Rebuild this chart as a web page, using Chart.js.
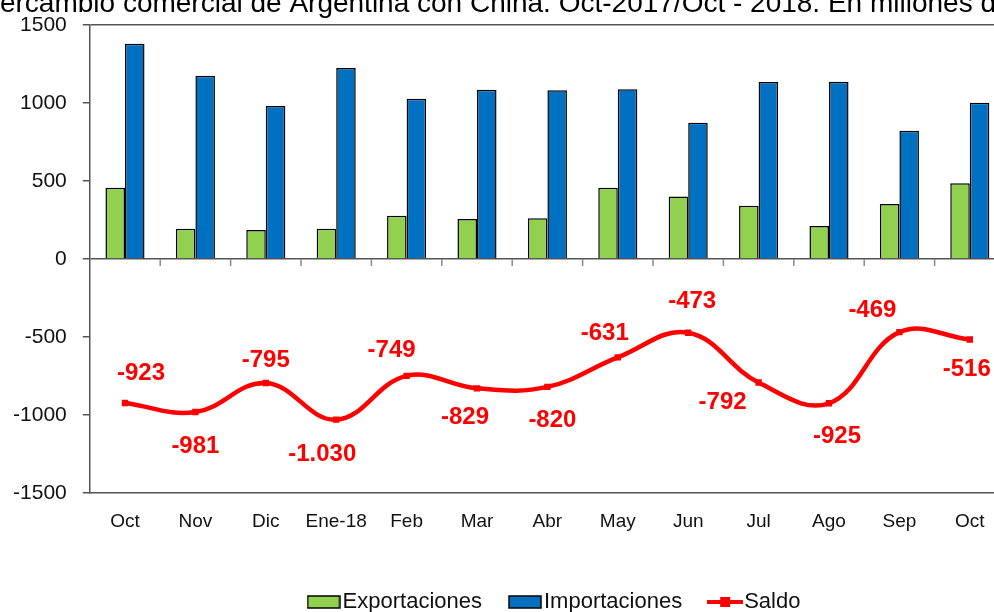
<!DOCTYPE html>
<html>
<head>
<meta charset="utf-8">
<script src="https://cdn.jsdelivr.net/npm/chart.js@4.4.0/dist/chart.umd.min.js"></script>
<style>
  html, body { margin: 0; padding: 0; background: #fff; overflow: hidden; }
  body { width: 994px; height: 612px; position: relative; }
  #wrap { position: absolute; left: -80px; top: -20px; width: 1240px; height: 643px; }
</style>
</head>
<body>
<div id="wrap"><canvas id="chart"></canvas></div>
<script>
// ===== DATA =====
const months = ["Oct", "Nov", "Dic", "Ene-18", "Feb", "Mar", "Abr", "May", "Jun", "Jul", "Ago", "Sep", "Oct"];
const exportaciones = [457, 194, 186, 194, 278, 256, 261, 457, 400, 342, 212, 353, 485];
const importaciones = [1380, 1175, 981, 1224, 1027, 1085, 1081, 1088, 873, 1134, 1137, 822, 1001];
const saldo = [-923, -981, -795, -1030, -749, -829, -820, -631, -473, -792, -925, -469, -516];
const yTicks = [-1500, -1000, -500, 0, 500, 1000, 1500];

const titleText = "Intercambio comercial de Argentina con China. Oct-2017/Oct - 2018. En millones de dólares";

// where each saldo label sits relative to its point (px)
const labelOffsets = [[16, -30], [0, 34], [0, -23], [-14, 35], [-15, -25], [-12, 29], [5, 33],
    [-13, -24], [4, -31], [-36, 20], [8, 33], [-27, -22], [-3, 30]];

const sans = '"Liberation Sans", Arial, sans-serif';

// -1030 -> "-1.030"
function fmtMiles(v) {
    const s = String(Math.abs(v)).replace(/\B(?=(\d{3})+(?!\d))/g, ".");
    return (v < 0 ? "-" : "") + s;
}

// ===== LEGEND SYMBOLS =====
function boxSymbol(fill) {
    const c = document.createElement("canvas");
    c.width = 34; c.height = 14;
    const g = c.getContext("2d");
    g.fillStyle = fill;
    g.fillRect(1, 1, 32, 12);
    g.strokeStyle = "#000";
    g.lineWidth = 1.5;
    g.strokeRect(1, 1, 32, 12);
    return c;
}

function lineSymbol() {
    const c = document.createElement("canvas");
    c.width = 36; c.height = 14;
    const g = c.getContext("2d");
    g.strokeStyle = "#FF0000";
    g.lineWidth = 4;
    g.beginPath(); g.moveTo(0, 7); g.lineTo(36, 7); g.stroke();
    g.fillStyle = "#FF0000";
    g.fillRect(13, 2, 10, 10);
    return c;
}

const legendSymbols = [boxSymbol("#92D050"), boxSymbol("#0070C0"), lineSymbol()];

// ===== PLUGINS =====
// small tick marks under the zero line between categories
const zeroTicks = {
    id: "zeroTicks",
    afterDatasetsDraw(chart) {
        const { ctx, scales: { x, y } } = chart;
        const y0 = y.getPixelForValue(0);
        ctx.save();
        ctx.strokeStyle = "#8a8a8a";
        ctx.lineWidth = 1.5;
        for (let i = 1; i < months.length; i++) {
            const bx = (x.getPixelForValue(i - 1) + x.getPixelForValue(i)) / 2;
            ctx.beginPath();
            ctx.moveTo(bx, y0);
            ctx.lineTo(bx, y0 + 7);
            ctx.stroke();
        }
        ctx.restore();
    }
};

// red value labels on the saldo line
const saldoLabels = {
    id: "saldoLabels",
    afterDatasetsDraw(chart) {
        const meta = chart.getDatasetMeta(2);
        const ctx = chart.ctx;
        ctx.save();
        ctx.font = 'bold 24px ' + sans;
        ctx.fillStyle = "#FF0000";
        ctx.textAlign = "center";
        ctx.textBaseline = "middle";
        meta.data.forEach((pt, i) => {
            const [dx, dy] = labelOffsets[i];
            ctx.fillText(fmtMiles(saldo[i]), pt.x + dx, pt.y + dy);
        });
        ctx.restore();
    }
};

// nudge the legend to the right
const legendShift = {
    id: "legendShift",
    afterLayout(chart) {
        chart.legend.left += 18;
        chart.legend.right += 18;
    }
};

// ===== CHART =====
new Chart(document.getElementById("chart"), {
    type: "bar",
    data: {
        labels: months,
        datasets: [
            {
                label: "Exportaciones",
                data: exportaciones,
                backgroundColor: "#92D050",
                borderColor: "#000",
                borderWidth: 1.5,
                barPercentage: 1,
                categoryPercentage: 0.555,
            },
            {
                label: "Importaciones",
                data: importaciones,
                backgroundColor: "#0070C0",
                borderColor: "#000",
                borderWidth: 1.5,
                barPercentage: 1,
                categoryPercentage: 0.555,
            },
            {
                type: "line",
                label: "Saldo",
                data: saldo,
                borderColor: "#FF0000",
                backgroundColor: "#FF0000",
                borderWidth: 4.5,
                tension: 0.4,
                pointStyle: "rect",
                pointRadius: 4.5,
                pointBorderWidth: 0,
                order: -1,
            },
        ],
    },
    options: {
        responsive: true,
        maintainAspectRatio: false,
        animation: false,
        layout: { padding: 0 },
        scales: {
            x: {
                grid: { display: true, drawOnChartArea: false, drawTicks: false },
                border: { display: true, color: "#555", width: 1.5 },
                ticks: {
                    padding: 17,
                    color: "#111",
                    maxRotation: 0,
                    autoSkip: false,
                    font: { family: sans, size: 19 },
                },
                afterFit: (s) => { s.height = 63; },
            },
            y: {
                min: -1500,
                max: 1500,
                afterBuildTicks: (axis) => { axis.ticks = yTicks.map(v => ({ value: v })); },
                border: { display: true, color: "#555", width: 1.5 },
                grid: {
                    color: (c) => (c.tick && (c.tick.value === 1500 || c.tick.value === 0)) ? "#555" : "rgba(0,0,0,0)",
                    lineWidth: 1.5,
                    tickColor: "#555",
                    tickLength: 7,
                },
                ticks: {
                    padding: 16,
                    color: "#111",
                    font: { family: sans, size: 21 },
                    callback: (v) => String(v),
                },
                afterFit: (s) => { s.width = 169.8; },
            },
            yRight: {
                position: "right",
                display: true,
                min: -1500,
                max: 1500,
                grid: { display: false },
                border: { display: false },
                ticks: { display: false },
                afterFit: (s) => { s.width = 155; },
            },
        },
        plugins: {
            title: {
                display: true,
                text: titleText,
                color: "#000",
                font: { family: sans, size: 28, weight: "normal" },
                padding: { top: 7, bottom: 4.4 },
            },
            legend: {
                position: "bottom",
                labels: {
                    usePointStyle: true,
                    pointStyleWidth: 16,
                    padding: 35,
                    color: "#111",
                    font: { family: sans, size: 22 },
                    generateLabels: (chart) => chart.data.datasets.map((ds, i) => ({
                        text: ds.label,
                        pointStyle: legendSymbols[i],
                        fillStyle: "transparent",
                        strokeStyle: "transparent",
                        lineWidth: 0,
                        fontColor: "#111",
                        hidden: false,
                        datasetIndex: i,
                    })),
                },
            },
            tooltip: { enabled: false },
        },
    },
    plugins: [zeroTicks, saldoLabels, legendShift],
});
</script>
</body>
</html>
